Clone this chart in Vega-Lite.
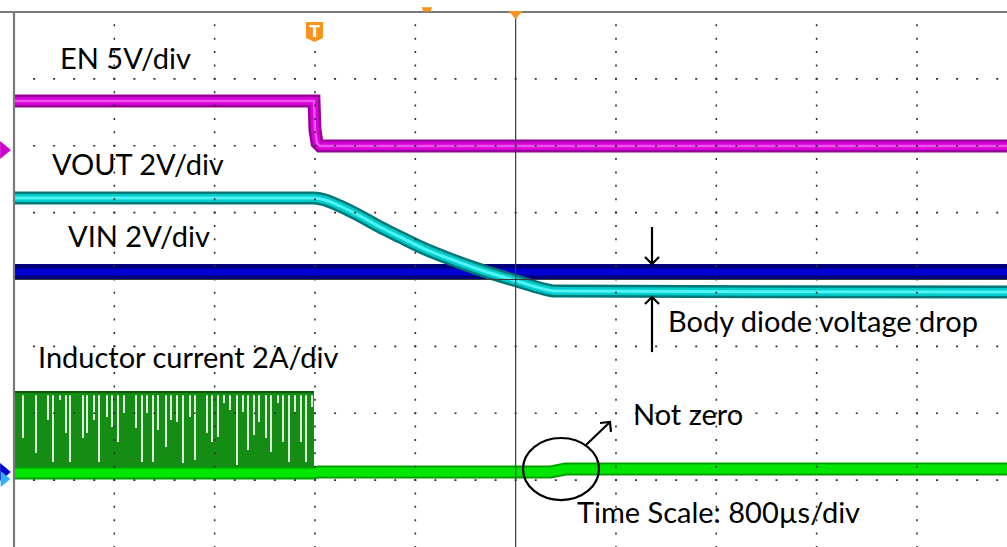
{
  "$schema": "https://vega.github.io/schema/vega-lite/v6.json",
  "width": 1007,
  "height": 547,
  "padding": 0,
  "autosize": {"type": "none"},
  "background": "white",
  "config": {"view": {"stroke": null}},
  "datasets": {
    "en": [{"t":0,"v":6.669},{"t":2.99,"v":6.669},{"t":3.0,"v":6.235},{"t":3.02,"v":6.041},{"t":3.05,"v":5.996},{"t":10,"v":5.996}],
    "vout": [{"t":0,"v":5.219},{"t":2.99,"v":5.219},{"t":3.1,"v":5.189},{"t":3.249,"v":5.099},{"t":3.449,"v":4.949},{"t":3.648,"v":4.785},{"t":3.847,"v":4.636},{"t":4.097,"v":4.456},{"t":4.346,"v":4.307},{"t":4.595,"v":4.172},{"t":4.844,"v":4.052},{"t":5.043,"v":3.963},{"t":5.243,"v":3.873},{"t":5.392,"v":3.828},{"t":10,"v":3.813}],
    "vin": [{"t":0,"v":4.112},{"t":10,"v":4.112}],
    "il": [{"t":0,"v":1.107},{"t":2.99,"v":1.107},{"t":3.03,"v":1.121},{"t":5.342,"v":1.121},{"t":5.492,"v":1.166},{"t":10,"v":1.166}],
    "pulse": [{"t":0,"t2":2.99,"v":2.318,"v2":1.196}],
    "streaks": [{"t":0.05},{"t":0.15},{"t":0.28},{"t":0.42},{"t":0.62},{"t":0.75},{"t":0.9},{"t":1.06},{"t":1.16},{"t":1.3},{"t":1.47},{"t":1.6},{"t":1.72},{"t":1.86},{"t":2.0},{"t":2.12},{"t":2.25},{"t":2.36},{"t":2.48},{"t":2.6},{"t":2.71},{"t":2.84},{"t":2.94}],
    "gaps": [
      {"t":0.0897,"v":2.27,"v2":1.63},{"t":0.2193,"v":2.27,"v2":1.406},{"t":0.3389,"v":2.27,"v2":1.899},{"t":0.3887,"v":2.27,"v2":1.271},{"t":0.4585,"v":2.27,"v2":2.198},
      {"t":0.5183,"v":2.27,"v2":1.705},{"t":0.5582,"v":2.27,"v2":1.271},{"t":0.6877,"v":2.27,"v2":1.63},{"t":0.7276,"v":2.27,"v2":1.705},{"t":0.7974,"v":2.27,"v2":1.899},
      {"t":0.8472,"v":2.27,"v2":1.271},{"t":0.927,"v":2.27,"v2":1.944},{"t":0.9768,"v":2.27,"v2":1.794},{"t":1.0366,"v":2.27,"v2":1.57},{"t":1.0964,"v":2.27,"v2":2.004},
      {"t":1.216,"v":2.27,"v2":1.779},{"t":1.2758,"v":2.27,"v2":1.271},{"t":1.3256,"v":2.27,"v2":2.004},{"t":1.3854,"v":2.27,"v2":1.271},{"t":1.4353,"v":2.27,"v2":1.75},
      {"t":1.515,"v":2.27,"v2":1.495},{"t":1.5648,"v":2.27,"v2":1.899},{"t":1.6246,"v":2.27,"v2":1.869},{"t":1.6844,"v":2.27,"v2":1.256},{"t":1.7542,"v":2.27,"v2":1.944},
      {"t":1.804,"v":2.27,"v2":1.301},{"t":1.9237,"v":2.27,"v2":1.705},{"t":1.9735,"v":2.27,"v2":1.57},{"t":2.0333,"v":2.27,"v2":1.645},{"t":2.0931,"v":2.27,"v2":2.153},
      {"t":2.1529,"v":2.27,"v2":2.049},{"t":2.2227,"v":2.27,"v2":1.226},{"t":2.2825,"v":2.27,"v2":2.019},{"t":2.3323,"v":2.27,"v2":1.45},{"t":2.3921,"v":2.27,"v2":1.675},
      {"t":2.4419,"v":2.27,"v2":1.869},{"t":2.5117,"v":2.27,"v2":1.63},{"t":2.5615,"v":2.27,"v2":1.421},{"t":2.6313,"v":2.27,"v2":2.153},{"t":2.6811,"v":2.27,"v2":1.57},
      {"t":2.741,"v":2.27,"v2":1.271},{"t":2.8008,"v":2.27,"v2":2.019},{"t":2.8606,"v":2.27,"v2":1.57},{"t":2.9104,"v":2.27,"v2":1.271},{"t":2.9702,"v":2.27,"v2":2.093}
    ],
    "vgrid": [{"t":1,"v":8,"v2":0},{"t":2,"v":8,"v2":0},{"t":3,"v":8,"v2":0},{"t":4,"v":8,"v2":0},{"t":6,"v":8,"v2":0},{"t":7,"v":8,"v2":0},{"t":8,"v":8,"v2":0},{"t":9,"v":8,"v2":0}],
    "hgrid": [{"v":1,"t":0,"t2":10},{"v":2,"t":0,"t2":10},{"v":3,"t":0,"t2":10},{"v":5,"t":0,"t2":10},{"v":6,"t":0,"t2":10},{"v":7,"t":0,"t2":10}],
    "cross": [{"t":5,"t2":5,"v":8,"v2":0},{"t":0,"t2":10,"v":4,"v2":4}],
    "xticks": [{"t":0.2},{"t":0.4},{"t":0.6},{"t":0.8},{"t":1},{"t":1.2},{"t":1.4},{"t":1.6},{"t":1.8},{"t":2},{"t":2.2},{"t":2.4},{"t":2.6},{"t":2.8},{"t":3},{"t":3.2},{"t":3.4},{"t":3.6},{"t":3.8},{"t":4},{"t":4.2},{"t":4.4},{"t":4.6},{"t":4.8},{"t":5},{"t":5.2},{"t":5.4},{"t":5.6},{"t":5.8},{"t":6},{"t":6.2},{"t":6.4},{"t":6.6},{"t":6.8},{"t":7},{"t":7.2},{"t":7.4},{"t":7.6},{"t":7.8},{"t":8},{"t":8.2},{"t":8.4},{"t":8.6},{"t":8.8},{"t":9},{"t":9.2},{"t":9.4},{"t":9.6},{"t":9.8}],
    "yticks": [{"v":0.2},{"v":0.4},{"v":0.6},{"v":0.8},{"v":1},{"v":1.2},{"v":1.4},{"v":1.6},{"v":1.8},{"v":2},{"v":2.2},{"v":2.4},{"v":2.6},{"v":2.8},{"v":3},{"v":3.2},{"v":3.4},{"v":3.6},{"v":3.8},{"v":4},{"v":4.2},{"v":4.4},{"v":4.6},{"v":4.8},{"v":5},{"v":5.2},{"v":5.4},{"v":5.6},{"v":5.8},{"v":6},{"v":6.2},{"v":6.4},{"v":6.6},{"v":6.8},{"v":7},{"v":7.2},{"v":7.4},{"v":7.6},{"v":7.8}],
    "arrows": [
      {"id":"a1","i":0,"t":6.359,"v":4.785},{"id":"a1","i":1,"t":6.359,"v":4.232},
      {"id":"a2","i":0,"t":6.289,"v":4.336},{"id":"a2","i":1,"t":6.359,"v":4.232},{"id":"a2","i":2,"t":6.429,"v":4.336},
      {"id":"b1","i":0,"t":6.359,"v":2.915},{"id":"b1","i":1,"t":6.359,"v":3.738},
      {"id":"b2","i":0,"t":6.289,"v":3.634},{"id":"b2","i":1,"t":6.359,"v":3.738},{"id":"b2","i":2,"t":6.429,"v":3.634},
      {"id":"c1","i":0,"t":5.701,"v":1.525},{"id":"c1","i":1,"t":5.94,"v":1.869},
      {"id":"c2","i":0,"t":5.841,"v":1.854},{"id":"c2","i":1,"t":5.94,"v":1.869},{"id":"c2","i":2,"t":5.95,"v":1.72}
    ],
    "labels": [
      {"t":0.4585,"v":7.148,"text":"EN 5V/div"},
      {"t":0.3788,"v":5.563,"text":"VOUT 2V/div"},
      {"t":0.5382,"v":4.486,"text":"VIN 2V/div"},
      {"t":0.2392,"v":2.677,"text":"Inductor current 2A/div"},
      {"t":6.518,"v":3.215,"text":"Body diode voltage drop"},
      {"t":6.169,"v":1.824,"text":"Not zero"},
      {"t":5.611,"v":0.359,"text":"Time Scale: 800µs/div"}
    ]
  },
  "encoding": {
    "x": {"field": "t", "type": "quantitative", "scale": {"domain": [-0.13954, 9.8973], "nice": false, "zero": false}, "axis": null},
    "y": {"field": "v", "type": "quantitative", "scale": {"domain": [0, 8.1794], "nice": false, "zero": false}, "axis": null}
  },
  "layer": [
    {"data":{"name":"pulse"},"mark":{"type":"rect","color":"#158d15","clip":true},
     "encoding":{"x2":{"field":"t2"},"y2":{"field":"v2"}}},
    {"data":{"name":"streaks"},"mark":{"type":"rule","color":"#0a620a","strokeWidth":1.2,"opacity":0.7,"clip":true},
     "encoding":{"y":{"datum":2.3},"y2":{"datum":1.2}}},
    {"data":{"name":"gaps"},"mark":{"type":"rule","color":"#ffffff","strokeWidth":1.7,"clip":true},
     "encoding":{"y2":{"field":"v2"}}},
    {"data":{"name":"pulse"},"mark":{"type":"rule","color":"#0a5a0a","strokeWidth":2,"clip":true},
     "encoding":{"x2":{"field":"t2"}}},

    {"data":{"name":"en"},"mark":{"type":"line","color":"#980098","strokeWidth":13,"clip":true,"strokeJoin":"miter"}},
    {"data":{"name":"en"},"mark":{"type":"line","color":"#d800d8","strokeWidth":8,"clip":true,"strokeJoin":"miter"}},
    {"data":{"name":"en"},"mark":{"type":"line","color":"#f050f0","strokeWidth":2.5,"clip":true,"strokeJoin":"miter"}},

    {"data":{"name":"vin"},"mark":{"type":"line","color":"#00007a","strokeWidth":16,"clip":true}},
    {"data":{"name":"vin"},"mark":{"type":"line","color":"#0000d0","strokeWidth":7,"clip":true}},

    {"data":{"name":"vout"},"mark":{"type":"line","color":"#007878","strokeWidth":13,"clip":true,"interpolate":"monotone"}},
    {"data":{"name":"vout"},"mark":{"type":"line","color":"#00cccc","strokeWidth":8,"clip":true,"interpolate":"monotone"}},
    {"data":{"name":"vout"},"mark":{"type":"line","color":"#50f4f4","strokeWidth":3,"clip":true,"interpolate":"monotone"}},

    {"data":{"name":"il"},"mark":{"type":"line","color":"#00a000","strokeWidth":13,"clip":true,"strokeJoin":"round"}},
    {"data":{"name":"il"},"mark":{"type":"line","color":"#00e600","strokeWidth":9,"clip":true,"strokeJoin":"round"}},

    {"data":{"name":"vgrid"},"mark":{"type":"rule","color":"#303030","strokeWidth":1.6,"strokeDash":[2,11.375],"strokeDashOffset":1,"clip":true},
     "encoding":{"y2":{"field":"v2"}}},
    {"data":{"name":"hgrid"},"mark":{"type":"rule","color":"#303030","strokeWidth":1.6,"strokeDash":[2,18.066],"strokeDashOffset":1,"clip":true},
     "encoding":{"x2":{"field":"t2"}}},
    {"data":{"name":"cross"},"mark":{"type":"rule","color":"#3a3a3a","strokeWidth":1.2,"clip":true},
     "encoding":{"x2":{"field":"t2"},"y2":{"field":"v2"}}},
    {"data":{"values":[{"t":-0.14,"t2":10,"v":8,"v2":8},{"t":0,"t2":0,"v":8,"v2":0}]},"mark":{"type":"rule","color":"#7a7a7a","strokeWidth":2.2,"clip":true},
     "encoding":{"x2":{"field":"t2"},"y2":{"field":"v2"}}},

    {"data":{"name":"xticks"},
     "mark":{"type":"point","shape":"M0,-1L0,1","size":49,"filled":false,"color":"#303030","strokeWidth":1,"opacity":1},
     "encoding":{"y":{"datum":4}}},
    {"data":{"name":"yticks"},
     "mark":{"type":"point","shape":"M-1,0L1,0","size":64,"filled":false,"color":"#303030","strokeWidth":1,"opacity":1},
     "encoding":{"x":{"datum":5}}},
    {"data":{"name":"xticks"},
     "mark":{"type":"point","shape":"M0,0L0,1","size":36,"filled":false,"color":"#303030","strokeWidth":1,"opacity":1},
     "encoding":{"y":{"datum":8}}},
    {"data":{"name":"yticks"},
     "mark":{"type":"point","shape":"M0,0L1,0","size":36,"filled":false,"color":"#303030","strokeWidth":1,"opacity":1},
     "encoding":{"x":{"datum":0}}},

    {"data":{"values":[{"t":-0.0847,"v":5.936}]},"mark":{"type":"point","shape":"M-0.6,-1L0.6,0L-0.6,1Z","size":324,"filled":true,"color":"#d000d0","opacity":1}},
    {"data":{"values":[{"t":-0.0847,"v":1.121}]},"mark":{"type":"point","shape":"M-0.6,-1L0.6,0L-0.6,1Z","size":324,"filled":true,"color":"#0000cc","opacity":1}},
    {"data":{"values":[{"t":-0.0847,"v":1.017}]},"mark":{"type":"point","shape":"M-0.6,-1L0.6,0L-0.6,1Z","size":256,"filled":true,"color":"#30b0ff","opacity":1}},

    {"data":{"values":[{"t":2.995,"v":7.701}]},"mark":{"type":"point","shape":"M-0.85,-1L0.85,-1L0.85,0.6L0,1L-0.85,0.6Z","size":400,"filled":true,"color":"#f7941d","opacity":1}},
    {"data":{"values":[{"t":2.995,"v":7.701,"text":"T"}]},"mark":{"type":"text","color":"white","font":"DejaVu Sans","fontWeight":"bold","fontSize":15,"align":"center","baseline":"middle"},
     "encoding":{"text":{"field":"text"}}},
    {"data":{"values":[{"t":5.0,"v":7.955}]},"mark":{"type":"point","shape":"M-1,-0.57L1,-0.57L0,0.57Z","size":196,"filled":true,"color":"#f7941d","opacity":1}},
    {"data":{"values":[{"t":4.116,"v":8.04}]},"mark":{"type":"point","shape":"M-1,-0.4L1,-0.4L0.7,0.4L-0.7,0.4Z","size":110,"filled":true,"color":"#f7941d","opacity":1}},

    {"data":{"name":"arrows"},"mark":{"type":"line","color":"black","strokeWidth":2.2,"clip":true},
     "encoding":{"detail":{"field":"id","type":"nominal"},"order":{"field":"i","type":"quantitative"}}},
    {"data":{"values":[{"t":5.452,"v":1.166}]},"mark":{"type":"point","shape":"M-1,0A1,0.816 0 1,1 1,0A1,0.816 0 1,1 -1,0Z","size":5776,"filled":false,"color":"black","strokeWidth":2.2,"opacity":1}},

    {"data":{"name":"labels"},"mark":{"type":"text","font":"Lato","fontSize":29,"align":"left","baseline":"alphabetic","color":"black"},
     "encoding":{"text":{"field":"text"}}}
  ]
}
